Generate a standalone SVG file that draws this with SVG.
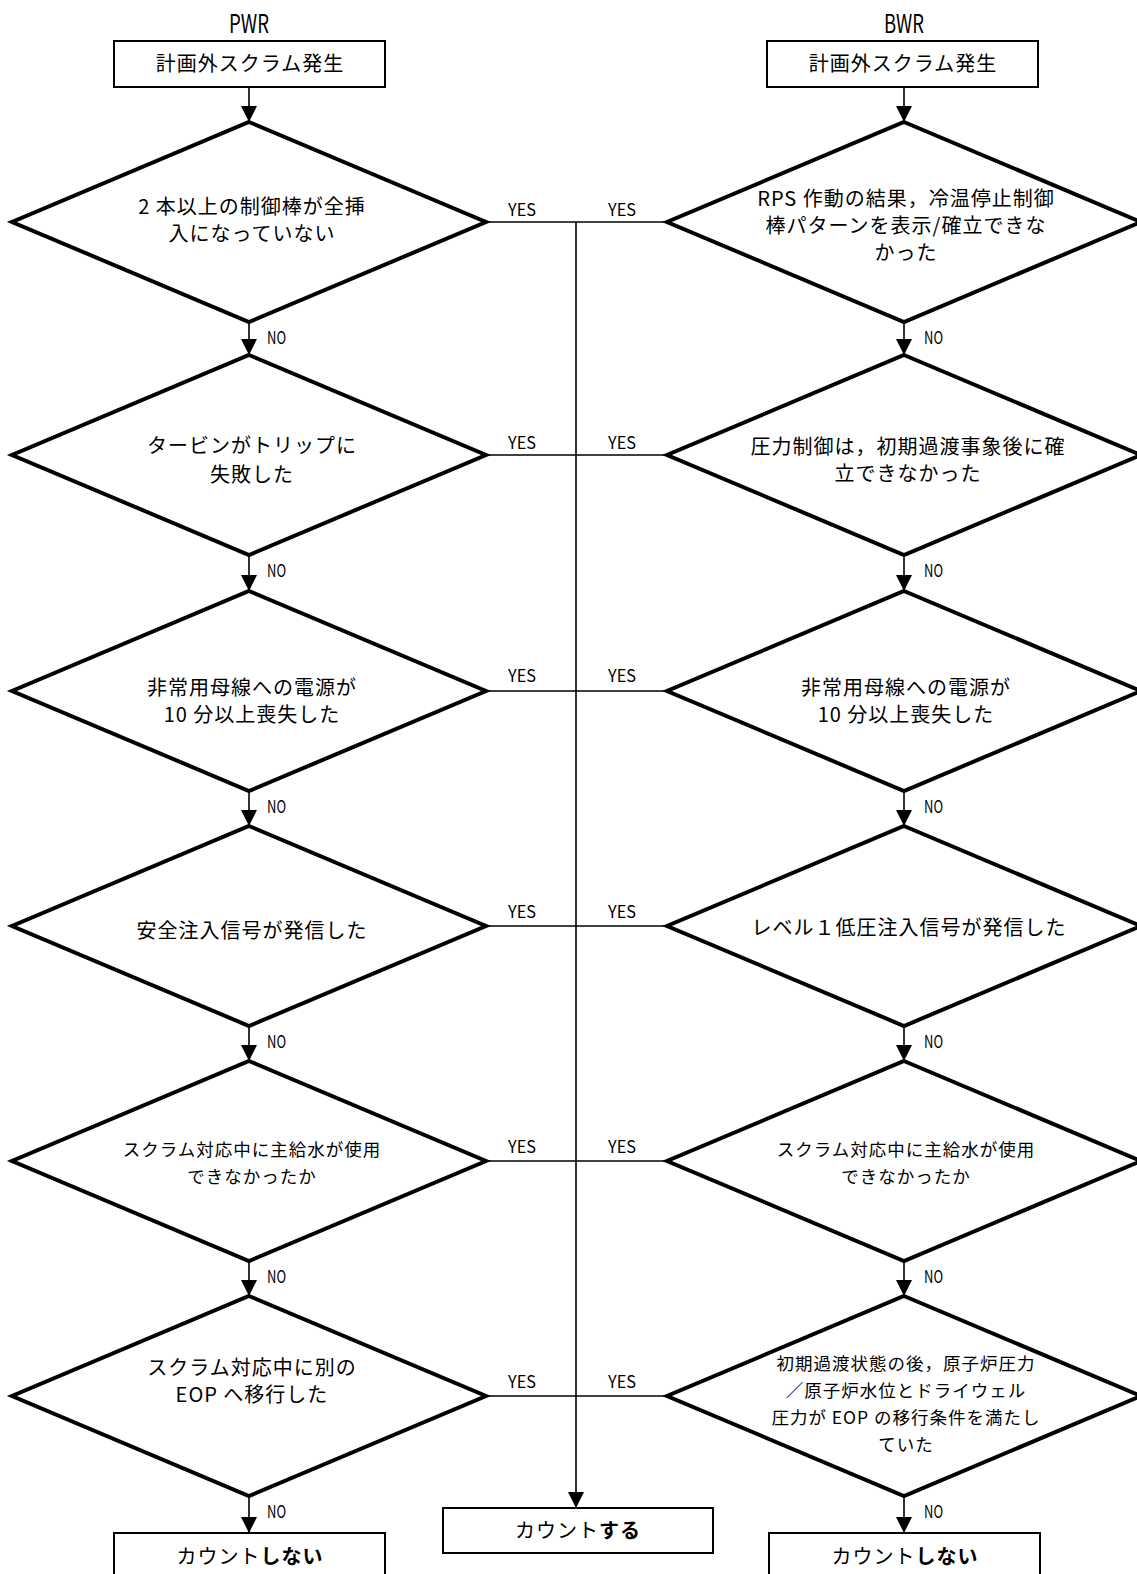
<svg xmlns="http://www.w3.org/2000/svg" width="1137" height="1574" viewBox="0 0 1137 1574">
<defs>
<style>
.bg{fill:#fff}
.box{fill:#fff;stroke:#000;stroke-width:2}
.dia{fill:#fff;stroke:#000;stroke-width:4;stroke-linejoin:miter}
.ln{fill:none;stroke:#000;stroke-width:1.6}
.t{font-family:"Noto Sans CJK JP",sans-serif;font-size:20px;fill:#000;text-anchor:middle;letter-spacing:1px}
.s{font-family:"Noto Sans CJK JP",sans-serif;font-size:17.5px;fill:#000;text-anchor:middle;letter-spacing:1px}
.bx{font-family:"Noto Sans CJK JP",sans-serif;font-size:20px;fill:#000;text-anchor:middle;letter-spacing:1px}
.lab{font-family:"Noto Sans CJK JP",sans-serif;font-size:17px;fill:#000}
.ttl{font-family:"Noto Sans CJK JP",sans-serif;font-size:25px;fill:#000}
.b{font-weight:bold}
</style>
<marker id="ah" markerUnits="userSpaceOnUse" markerWidth="16" markerHeight="16" viewBox="0 0 16 16" refX="16" refY="8" orient="auto">
<path d="M0,0 L16,8 L0,16 Z" fill="#000"/>
</marker>
</defs>
<rect class="bg" x="0" y="0" width="1137" height="1574"/>

<g id="connectors">
<line class="ln" x1="249" y1="87" x2="249" y2="122" marker-end="url(#ah)"/>
<line class="ln" x1="904" y1="87" x2="904" y2="122" marker-end="url(#ah)"/>
<line class="ln" x1="249" y1="322" x2="249" y2="355" marker-end="url(#ah)"/>
<line class="ln" x1="249" y1="555" x2="249" y2="591" marker-end="url(#ah)"/>
<line class="ln" x1="249" y1="791" x2="249" y2="826" marker-end="url(#ah)"/>
<line class="ln" x1="249" y1="1026" x2="249" y2="1061" marker-end="url(#ah)"/>
<line class="ln" x1="249" y1="1261" x2="249" y2="1296" marker-end="url(#ah)"/>
<line class="ln" x1="249" y1="1496" x2="249" y2="1533" marker-end="url(#ah)"/>
<line class="ln" x1="904" y1="322" x2="904" y2="355" marker-end="url(#ah)"/>
<line class="ln" x1="904" y1="555" x2="904" y2="591" marker-end="url(#ah)"/>
<line class="ln" x1="904" y1="791" x2="904" y2="826" marker-end="url(#ah)"/>
<line class="ln" x1="904" y1="1026" x2="904" y2="1061" marker-end="url(#ah)"/>
<line class="ln" x1="904" y1="1261" x2="904" y2="1296" marker-end="url(#ah)"/>
<line class="ln" x1="904" y1="1496" x2="904" y2="1533" marker-end="url(#ah)"/>
<line class="ln" x1="486" y1="222" x2="667" y2="222"/>
<line class="ln" x1="486" y1="455" x2="667" y2="455"/>
<line class="ln" x1="486" y1="691" x2="667" y2="691"/>
<line class="ln" x1="486" y1="926" x2="667" y2="926"/>
<line class="ln" x1="486" y1="1161" x2="667" y2="1161"/>
<line class="ln" x1="486" y1="1396" x2="667" y2="1396"/>
<line class="ln" x1="576" y1="222" x2="576" y2="1508" marker-end="url(#ah)"/>
<g class="lab">
<text x="508" y="216" textLength="28" lengthAdjust="spacingAndGlyphs">YES</text>
<text x="608" y="216" textLength="28" lengthAdjust="spacingAndGlyphs">YES</text>
<text x="508" y="449" textLength="28" lengthAdjust="spacingAndGlyphs">YES</text>
<text x="608" y="449" textLength="28" lengthAdjust="spacingAndGlyphs">YES</text>
<text x="508" y="682" textLength="28" lengthAdjust="spacingAndGlyphs">YES</text>
<text x="608" y="682" textLength="28" lengthAdjust="spacingAndGlyphs">YES</text>
<text x="508" y="918" textLength="28" lengthAdjust="spacingAndGlyphs">YES</text>
<text x="608" y="918" textLength="28" lengthAdjust="spacingAndGlyphs">YES</text>
<text x="508" y="1153" textLength="28" lengthAdjust="spacingAndGlyphs">YES</text>
<text x="608" y="1153" textLength="28" lengthAdjust="spacingAndGlyphs">YES</text>
<text x="508" y="1388" textLength="28" lengthAdjust="spacingAndGlyphs">YES</text>
<text x="608" y="1388" textLength="28" lengthAdjust="spacingAndGlyphs">YES</text>
<text x="267" y="344" textLength="19" lengthAdjust="spacingAndGlyphs">NO</text>
<text x="267" y="577" textLength="19" lengthAdjust="spacingAndGlyphs">NO</text>
<text x="267" y="813" textLength="19" lengthAdjust="spacingAndGlyphs">NO</text>
<text x="267" y="1048" textLength="19" lengthAdjust="spacingAndGlyphs">NO</text>
<text x="267" y="1283" textLength="19" lengthAdjust="spacingAndGlyphs">NO</text>
<text x="267" y="1518" textLength="19" lengthAdjust="spacingAndGlyphs">NO</text>
<text x="924" y="344" textLength="19" lengthAdjust="spacingAndGlyphs">NO</text>
<text x="924" y="577" textLength="19" lengthAdjust="spacingAndGlyphs">NO</text>
<text x="924" y="813" textLength="19" lengthAdjust="spacingAndGlyphs">NO</text>
<text x="924" y="1048" textLength="19" lengthAdjust="spacingAndGlyphs">NO</text>
<text x="924" y="1283" textLength="19" lengthAdjust="spacingAndGlyphs">NO</text>
<text x="924" y="1518" textLength="19" lengthAdjust="spacingAndGlyphs">NO</text>
</g>
</g>

<g id="title-pwr"><text class="ttl" x="229" y="33" textLength="40" lengthAdjust="spacingAndGlyphs">PWR</text></g>
<g id="title-bwr"><text class="ttl" x="884" y="33" textLength="40" lengthAdjust="spacingAndGlyphs">BWR</text></g>

<g id="p-start"><rect class="box" x="114" y="41" width="271" height="46"/><text class="bx" x="250" y="71">計画外スクラム発生</text></g>
<g id="b-start"><rect class="box" x="767" y="41" width="271" height="46"/><text class="bx" x="903" y="71">計画外スクラム発生</text></g>

<g id="p1"><polygon class="dia" points="249,122 486,222 249,322 12,222"/>
<text class="t" x="252" y="214">2 本以上の制御棒が全挿</text><text class="t" x="252" y="241">入になっていない</text></g>
<g id="p2"><polygon class="dia" points="249,355 486,455 249,555 12,455"/>
<text class="t" x="252" y="453">タービンがトリップに</text><text class="t" x="252" y="482">失敗した</text></g>
<g id="p3"><polygon class="dia" points="249,591 486,691 249,791 12,691"/>
<text class="t" x="252" y="695">非常用母線への電源が</text><text class="t" x="252" y="722">10 分以上喪失した</text></g>
<g id="p4"><polygon class="dia" points="249,826 486,926 249,1026 12,926"/>
<text class="t" x="252" y="938">安全注入信号が発信した</text></g>
<g id="p5"><polygon class="dia" points="249,1061 486,1161 249,1261 12,1161"/>
<text class="s" x="252" y="1156">スクラム対応中に主給水が使用</text><text class="s" x="252" y="1183">できなかったか</text></g>
<g id="p6"><polygon class="dia" points="249,1296 486,1396 249,1496 12,1396"/>
<text class="t" x="252" y="1375">スクラム対応中に別の</text><text class="t" x="252" y="1402">EOP へ移行した</text></g>

<g id="b1"><polygon class="dia" points="904,122 1141,222 904,322 667,222"/>
<text class="t" x="906" y="206">RPS 作動の結果，冷温停止制御</text><text class="t" x="906" y="233">棒パターンを表示/確立できな</text><text class="t" x="906" y="260">かった</text></g>
<g id="b2"><polygon class="dia" points="904,355 1141,455 904,555 667,455"/>
<text class="t" x="908" y="454">圧力制御は，初期過渡事象後に確</text><text class="t" x="908" y="481">立できなかった</text></g>
<g id="b3"><polygon class="dia" points="904,591 1141,691 904,791 667,691"/>
<text class="t" x="906" y="695">非常用母線への電源が</text><text class="t" x="906" y="722">10 分以上喪失した</text></g>
<g id="b4"><polygon class="dia" points="904,826 1141,926 904,1026 667,926"/>
<text class="t" x="909" y="935">レベル１低圧注入信号が発信した</text></g>
<g id="b5"><polygon class="dia" points="904,1061 1141,1161 904,1261 667,1161"/>
<text class="s" x="906" y="1156">スクラム対応中に主給水が使用</text><text class="s" x="906" y="1183">できなかったか</text></g>
<g id="b6"><polygon class="dia" points="904,1296 1141,1396 904,1496 667,1396"/>
<text class="s" x="906" y="1370">初期過渡状態の後，原子炉圧力</text><text class="s" x="906" y="1397">／原子炉水位とドライウェル</text><text class="s" x="906" y="1424">圧力が EOP の移行条件を満たし</text><text class="s" x="906" y="1451">ていた</text></g>

<g id="p-end"><rect class="box" x="114" y="1533" width="271" height="44"/><text class="bx" x="250" y="1564">カウント<tspan class="b">しない</tspan></text></g>
<g id="count"><rect class="box" x="443" y="1508" width="270" height="45"/><text class="bx" x="578" y="1538">カウント<tspan class="b">する</tspan></text></g>
<g id="b-end"><rect class="box" x="769" y="1533" width="271" height="44"/><text class="bx" x="905" y="1564">カウント<tspan class="b">しない</tspan></text></g>
</svg>
